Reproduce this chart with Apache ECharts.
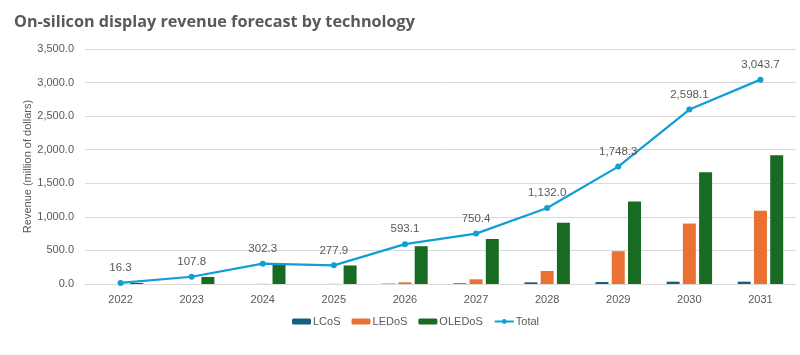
<!DOCTYPE html>
<html><head><meta charset="utf-8">
<script src="https://cdn.jsdelivr.net/npm/echarts@6/dist/echarts.min.js"></script>
<style>html,body{margin:0;padding:0;background:#fff}#c{width:800px;height:355px}</style>
</head><body><div id="c"></div>
<script>
const years = ['2022','2023','2024','2025','2026','2027','2028','2029','2030','2031'];
const lcos = [0, 0, 0, 0, 5, 10, 25, 30, 35, 35];
const ledos = [0, 0, 2, 2, 25, 70, 194, 488, 900, 1090];
const oledos = [15, 105, 300, 276, 563, 670, 913, 1230, 1663, 1918];
const total = [16.3, 107.8, 302.3, 277.9, 593.1, 750.4, 1132.0, 1748.3, 2598.1, 3043.7];
const yTicks = [0, 500, 1000, 1500, 2000, 2500, 3000, 3500];

function fmt(v){ return Number(v).toLocaleString('en-US',{minimumFractionDigits:1,maximumFractionDigits:1}); }
const font = '"Liberation Sans", Arial, sans-serif';
const chart = echarts.init(document.getElementById('c'));
chart.setOption({
  animation:false,
  title:{text:'On-silicon display revenue forecast by technology',left:9,top:9,
    textStyle:{fontFamily:'"Open Sans", sans-serif',fontWeight:'bold',fontSize:16.2,color:'#595959'}},
  grid:{left:85,right:4,top:49,bottom:71},
  legend:{bottom:23,left:287,itemWidth:19,itemHeight:6,itemGap:11,
    textStyle:{fontFamily:font,fontSize:11,color:'#595959',padding:[0,0,0,-3]},
    data:[{name:'LCoS'},{name:'LEDoS'},{name:'OLEDoS'},{name:'Total'}]},
  xAxis:{type:'category',data:years,
    axisLine:{lineStyle:{color:'#D9D9D9'}},axisTick:{show:false},
    axisLabel:{fontFamily:font,fontSize:11,color:'#595959',margin:10}},
  yAxis:{type:'value',min:yTicks[0],max:yTicks[yTicks.length-1],interval:500,
    name:'Revenue (million of dollars)',nameLocation:'middle',nameGap:52,nameMoveOverlap:false,
    nameTextStyle:{fontFamily:font,fontSize:11,color:'#595959'},
    axisLine:{show:false},axisTick:{show:false},
    splitLine:{lineStyle:{color:'#D9D9D9'}},
    axisLabel:{fontFamily:font,fontSize:11,color:'#595959',margin:11,formatter:fmt}},
  series:[
    {name:'LCoS',type:'bar',data:lcos,barWidth:13,barGap:'25%',itemStyle:{color:'#156082'}},
    {name:'LEDoS',type:'bar',data:ledos,barWidth:13,barGap:'25%',itemStyle:{color:'#E97132'}},
    {name:'OLEDoS',type:'bar',data:oledos,barWidth:13,barGap:'25%',itemStyle:{color:'#196B24'}},
    {name:'Total',type:'line',data:total,symbol:'circle',symbolSize:6,
      lineStyle:{color:'#0F9ED5',width:2.2},itemStyle:{color:'#0F9ED5'},
      label:{show:true,position:'top',distance:6,fontFamily:font,fontSize:11.5,color:'#595959',
        formatter:p=>fmt(p.value)}}
  ]
});
</script></body></html>
